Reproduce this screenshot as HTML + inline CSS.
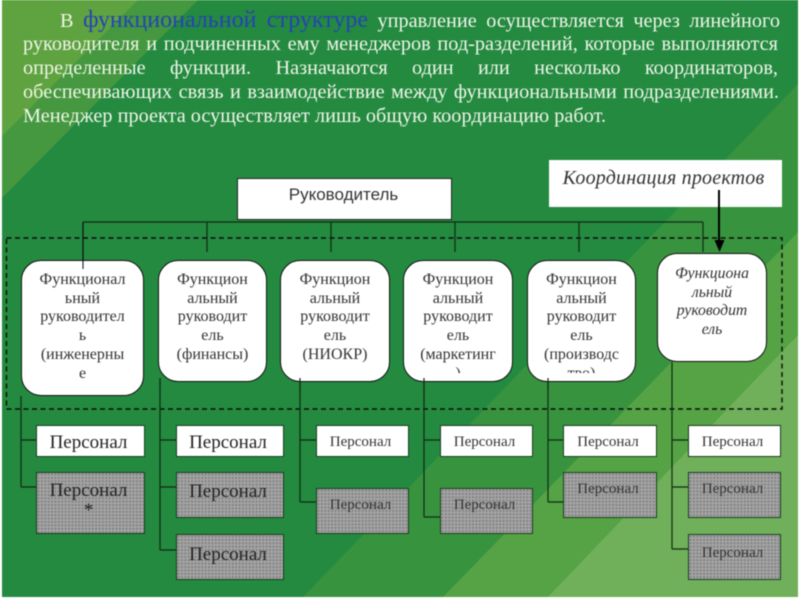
<!DOCTYPE html>
<html><head><meta charset="utf-8"><style>
html,body{margin:0;padding:0;background:#fff}
#p{position:relative;width:800px;height:600px;overflow:hidden;font-family:"Liberation Serif","Noto Serif CJK SC",serif;filter:blur(.45px)}
#p svg{position:absolute;left:0;top:0}
.l{position:absolute;left:23px;width:755px;font-size:20.300px;line-height:24px;height:24px;color:#eef5e8;text-align:justify;text-align-last:justify;white-space:normal}
.c{position:absolute;background:#fff;border:1px solid #111;box-sizing:border-box;border-radius:20px;text-align:center;color:#333;font-size:16px;line-height:18.7px;overflow:hidden;padding-top:10px}
.b{position:absolute;box-sizing:border-box;border:1px solid #1b3d22;text-align:center;color:#222;padding-right:4px;font-size:19px}
.s{font-size:15px;color:#333}
.w{background:#fff}
.g{background-color:#a4a4a4;background-image:radial-gradient(circle at 1.5px 1.5px,#7c7c7c 0.9px,transparent 1.1px);background-size:3.4px 3.4px}
</style></head><body><div id="p">
<svg width="800" height="600" viewBox="0 0 800 600">
<rect x="2" y="0" width="796" height="597" fill="#248a40"/>
<polygon points="2,0 198,0 2,198" fill="#45983f"/>
<polygon points="2,0 138,0 2,136" fill="#5fa340"/>
<polygon points="798,84 798,597 303,597" fill="#38933f"/>
<polygon points="798,232 798,597 443,597" fill="#55a344"/>
<polygon points="798,335 798,597 548,597" fill="#70b05a"/>
<rect x="6.500" y="238" width="775.500" height="171" fill="none" stroke="#0c0c0c" stroke-width="1.400" stroke-dasharray="5 3.500"/>
<g stroke="#0f2a14" stroke-width="1.200" fill="none">
<path d="M83 222H703M83 222V269M207 222V252M331 222V252M455 222V252M579 222V252M703 222V252"/>
<path d="M21 396V487M21 440H36M21 487H36"/>
<path d="M160 382V550M160 440H176M160 487H176M160 550H176"/>
<path d="M300 378V502M300 440H316M300 502H316"/>
<path d="M424 378V517M424 440H440M424 517H440"/>
<path d="M548 378V502M548 440H563M548 502H563"/>
<path d="M672 362V549M672 440H688M672 487H688M672 549H688"/>
</g>
</svg>
<div class="l" style="top:8px;left:60px;width:720px">В <span style="color:#2443b4;font-size:24px;line-height:1">функциональной структуре</span> управление осуществляется через линейного</div>
<div class="l" style="top:32px">руководителя и подчиненных ему менеджеров под-разделений, которые выполняются</div>
<div class="l" style="top:56px">определенные функции. Назначаются один или несколько координаторов,</div>
<div class="l" style="top:80px;width:756px">обеспечивающих связь и взаимодействие между функциональными подразделениями.</div>
<div class="l" style="top:104px;text-align-last:left">Менеджер проекта осуществляет лишь общую координацию работ.</div>

<div class="b w" style="left:237px;top:178px;width:215px;height:42px;font-family:'Liberation Sans',sans-serif;font-size:17px;line-height:31px;border-color:#222;padding-right:2px;color:#333">Руководитель</div>
<div style="position:absolute;left:549px;top:160px;width:233px;height:47px;background:#fff;font-style:italic;font-size:20px;line-height:36px;text-align:center;color:#333;letter-spacing:.2px;padding-right:0;text-indent:-4px">Координация проектов</div>

<div class="c" style="left:21px;top:260px;width:123px;height:136px"><div style="height:112px;overflow:hidden">Функционал<br>ьный<br>руководител<br>ь<br>(инженерны<br>е</div></div>
<div class="c" style="left:158px;top:260px;width:109px;height:122px"><div>Функцион<br>альный<br>руководит<br>ель<br>(финансы)</div></div>
<div class="c" style="left:280px;top:260px;width:110px;height:122px"><div>Функцион<br>альный<br>руководит<br>ель<br>(НИОКР)</div></div>
<div class="c" style="left:403px;top:260px;width:110px;height:122px"><div style="height:102px;overflow:hidden">Функцион<br>альный<br>руководит<br>ель<br>(маркетинг<br>)</div></div>
<div class="c" style="left:527px;top:260px;width:109px;height:122px"><div style="height:102px;overflow:hidden">Функцион<br>альный<br>руководит<br>ель<br>(производс<br>тво)</div></div>
<div class="c" style="left:657px;top:253px;width:110px;height:109px;font-style:italic;font-size:15.700px;padding-top:11px">Функциона<br>льный<br>руководит<br>ель</div>

<svg width="800" height="600" viewBox="0 0 800 600" style="pointer-events:none">
<path d="M83 222V269" stroke="#0a0a0a" fill="none"/>
<path d="M719 190V244" stroke="#000" stroke-width="2" fill="none"/>
<polygon points="714.500,240 724.500,240 719.500,252" fill="#000"/>
<path d="M160 378V390M300 378V390M424 378V390M548 378V390" stroke="#0f2a14" stroke-width="1.200" fill="none"/>
</svg>

<div class="b w" style="left:36px;top:425px;width:109px;height:32px;line-height:33px">Персонал</div>
<div class="b g" style="left:36px;top:472px;width:109px;height:62px;line-height:20px;padding-top:8px">Персонал<br>*</div>
<div class="b w" style="left:176px;top:425px;width:108px;height:32px;line-height:33px">Персонал</div>
<div class="b g" style="left:176px;top:472px;width:108px;height:46px;line-height:37px">Персонал</div>
<div class="b g" style="left:176px;top:534px;width:108px;height:46px;line-height:40px">Персонал</div>
<div class="b w s" style="left:316px;top:425px;width:93px;height:32px;line-height:33px">Персонал</div>
<div class="b g s" style="left:316px;top:488px;width:93px;height:46px;line-height:33px">Персонал</div>
<div class="b w s" style="left:440px;top:425px;width:93px;height:32px;line-height:33px">Персонал</div>
<div class="b g s" style="left:440px;top:488px;width:93px;height:46px;line-height:33px">Персонал</div>
<div class="b w s" style="left:563px;top:425px;width:94px;height:32px;line-height:33px">Персонал</div>
<div class="b g s" style="left:563px;top:472px;width:94px;height:46px;line-height:32px">Персонал</div>
<div class="b w s" style="left:688px;top:425px;width:93px;height:32px;line-height:33px">Персонал</div>
<div class="b g s" style="left:688px;top:472px;width:93px;height:46px;line-height:32px">Персонал</div>
<div class="b g s" style="left:688px;top:534px;width:93px;height:46px;line-height:36px">Персонал</div>
</div></body></html>
